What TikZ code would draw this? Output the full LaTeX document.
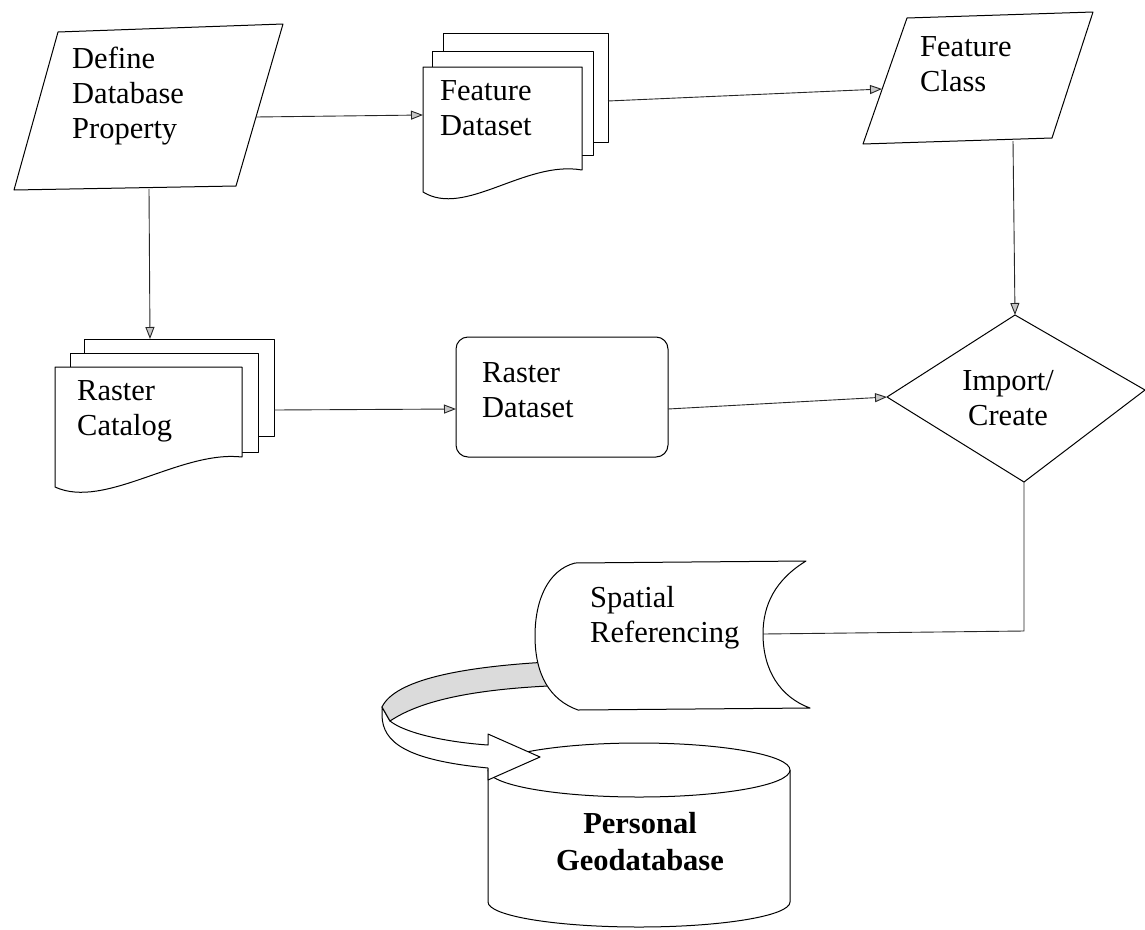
\documentclass[tikz,border=0pt]{standalone}
\usepackage{fontspec}
\setmainfont{Liberation Serif}
\usetikzlibrary{arrows.meta}
\begin{document}
\begin{tikzpicture}[x=1pt,y=-1pt,
  shp/.style={draw=black, line width=1pt, fill=white, line join=round},
  lbl/.style={font=\fontsize{30.5}{35}\selectfont, align=left, inner sep=0pt, anchor=base west},
  clbl/.style={font=\fontsize{30.5}{37}\selectfont\bfseries, align=center, inner sep=0pt, anchor=base},
  conn/.style={draw=black!85, line width=0.9pt},
  arr/.style={conn, -{Triangle[length=12pt,width=9pt,fill=gray!45]}},
  band/.style={draw=black, line width=1pt, fill=black!14}]
\useasboundingbox (0,0) rectangle (1145,929);

% ---------- connection points ----------
\coordinate (ddp-e) at (256,117);
\coordinate (ddp-s) at (149,189);
\coordinate (fd-w) at (423,115);
\coordinate (fd-e) at (608,101);
\coordinate (fc-w) at (882,89);
\coordinate (fc-s) at (1013,141);
\coordinate (ic-n) at (1015,315);
\coordinate (ic-e) at (1145,390);
\coordinate (ic-s) at (1024,482);
\coordinate (ic-w) at (887,397);
\coordinate (rc-n) at (150,339);
\coordinate (rc-e) at (274,410);
\coordinate (rd-w) at (456,409);
\coordinate (rd-e) at (668,409);
\coordinate (sr-e) at (763,634);
\coordinate (bend) at (1024,631);

% ---------- Define Database Property ----------
\draw[shp] (58,32) -- (283,24) -- (236,186) -- (14,190) -- cycle;
\node[lbl] (ddp) at (72,138) {Define\\Database\\Property};

% ---------- Feature Dataset ----------
\draw[shp] (443,33) rectangle (608,142);
\draw[shp] (432,51) rectangle (593,155);
\draw[shp] (423,67) -- (582,67) -- (582,170) .. controls (525,160) and (465,218) .. (423,192) -- cycle;
\node[lbl] (fd) at (440,135) {Feature\\Dataset};

% ---------- Feature Class ----------
\draw[shp] (907,18) -- (1093,12) -- (1052,138) -- (863,144) -- cycle;
\node[lbl] (fc) at (920,91) {Feature\\Class};

% ---------- Import/Create ----------
\draw[shp] (ic-n) -- (ic-e) -- (ic-s) -- (ic-w) -- cycle;
\node[lbl, align=center, anchor=base] (ic) at (1008,425) {Import/\\Create};

% ---------- Raster Catalog ----------
\draw[shp] (84,339) rectangle (274,436);
\draw[shp] (70,353) rectangle (258,452);
\draw[shp] (55,367) -- (242,367) -- (242,457) .. controls (180,450) and (105,510) .. (55,487) -- cycle;
\node[lbl] (rc) at (77,435) {Raster\\Catalog};

% ---------- Raster Dataset ----------
\draw[shp, rounded corners=12pt] (456,337) rectangle (668,457);
\node[lbl] (rd) at (482,417) {Raster\\Dataset};

% ---------- Personal Geodatabase ----------
\draw[shp] (488,770) -- (488,902) arc[start angle=180, end angle=0, x radius=151, y radius=25] -- (790,770) -- cycle;
\draw[shp] (639,770) ellipse [x radius=151, y radius=27];
\node[clbl] (pg) at (640,870) {Personal\\Geodatabase};

% ---------- curved block arrow ----------
\draw[shp] (382,707) -- (382,716) .. controls (383,742) and (405,760) .. (488,768)
  -- (488,780) -- (540,757) -- (488,734) -- (488,745)
  .. controls (445,742) and (405,733) .. (390,721) -- cycle;
\draw[band] (548,662) .. controls (460,667) and (395,680) .. (382,707)
  -- (390,721) .. controls (420,701) and (470,690) .. (548,686) -- cycle;

% ---------- Spatial Referencing ----------
\draw[shp] (575,563) -- (806,561) .. controls (775,580) and (763,605) .. (763,634)
  .. controls (763,670) and (780,697) .. (810,708) -- (578,710)
  .. controls (550,700) and (535,675) .. (535,636)
  .. controls (535,600) and (548,570) .. (575,563) -- cycle;
\node[lbl] (sr) at (590,642) {Spatial\\Referencing};

% ---------- connectors ----------
\draw[arr] (ddp-e) -- (fd-w);
\draw[arr] (fd-e) -- (fc-w);
\draw[arr] (fc-s) -- (ic-n);
\draw[arr] (ddp-s) -- (rc-n);
\draw[arr] (rc-e) -- (rd-w);
\draw[arr] (rd-e) -- (ic-w);
\draw[conn] (ic-s) -- (bend) -- (sr-e);
\end{tikzpicture}
\end{document}
